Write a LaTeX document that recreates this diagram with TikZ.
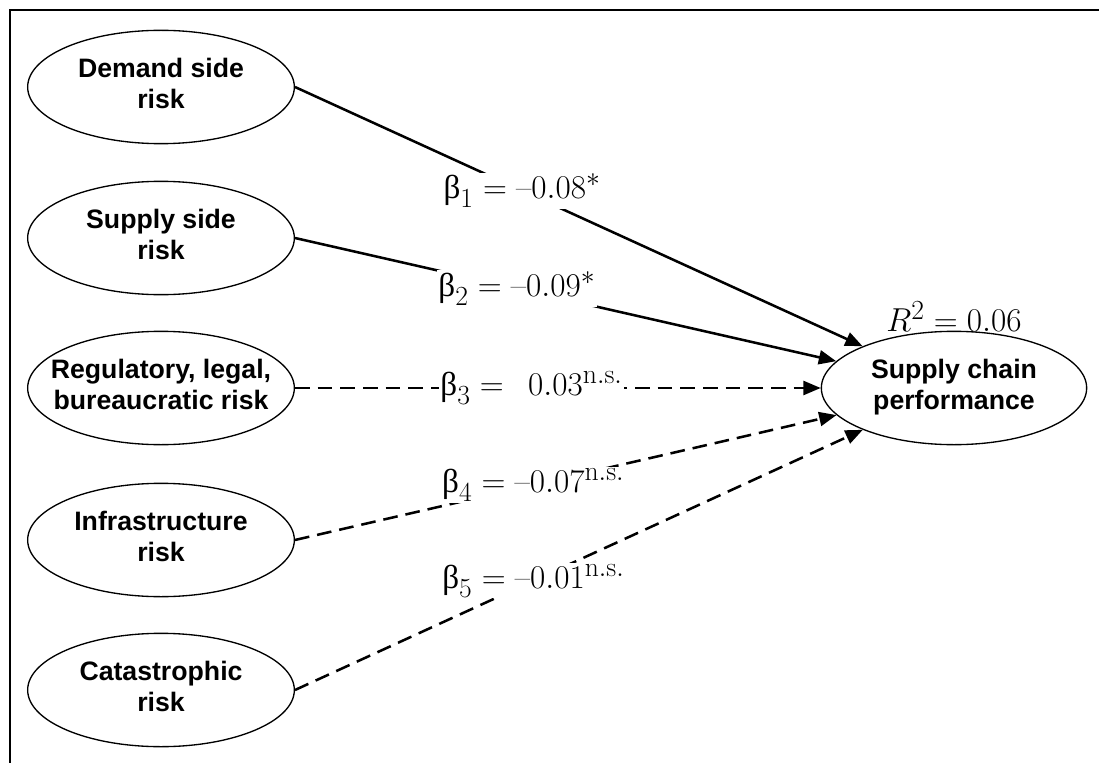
\documentclass[tikz,border=0pt]{standalone}
\usepackage{fontspec}
\usepackage{tikz}
\usetikzlibrary{shapes.geometric, arrows.meta, positioning}
\newfontfamily\sansfont{Liberation Sans}
\newfontfamily\greekfont{Liberation Serif}
\newcommand{\ubeta}{\mbox{\greekfont β}}
\newcommand{\twolines}[2]{\makebox[0pt]{\raisebox{-2.5pt}{\begin{tabular}{@{}c@{}}#1\\#2\end{tabular}}}}
\tikzset{
>={Triangle[length=13pt,width=10.5pt]},
  construct/.style={
    ellipse,
    draw=black, line width=1pt,
    minimum width=200pt,
    minimum height=85pt,
    inner sep=0pt,
    font=\sansfont\bfseries\fontsize{20}{23.5}\selectfont},
  effect/.style={->, line width=1.9pt},
  noeffect/.style={->, line width=1.9pt, dash pattern=on 11pt off 6pt},
  coef/.style={fill=white, inner sep=1pt, font=\Huge},
}
\begin{document}
\begin{tikzpicture}[x=0.75pt, y=-0.75pt]
\useasboundingbox (0,0) rectangle (1099,763);
\draw[line width=2.2pt] (10,763) -- (10,10) -- (1099,10);
% risk constructs on the left
\foreach \name/\y/\txtUp/\txtLow in {dem/87/Demand side/risk, sup/238/Supply side/risk,
    reg/388/{Regulatory, legal,}/bureaucratic risk, inf/540/Infrastructure/risk, cat/690/Catastrophic/risk}{
  \node[construct] (\name) at (161,\y) {\twolines{\txtUp}{\txtLow}};
  }
\node[construct, minimum width=199pt] (perf) at (954,388) {\twolines{Supply chain}{performance}};
\node[above=-1pt of perf, inner sep=0pt, font=\Huge] (rsq) {$R^2 = 0.06$};
% paths
\draw[effect] (dem.east) -- (perf) node[coef, pos=0.40] (b1) {$\ubeta_1 = \mbox{--}0.08^{*}$};
\draw[effect] (sup.east) -- (perf) node[coef, pos=0.41] (b2) {$\ubeta_2 = \mbox{--}0.09^{*}$};
\draw[noeffect] (reg.east) -- (perf) node[coef, pos=0.45] (b3) {$\ubeta_3 = \phantom{\mbox{--}}0.03^{\mathrm{n.s.}}$};
\draw[noeffect] (inf.east) -- (perf) node[coef, pos=0.44] (b4) {$\ubeta_4 = \mbox{--}0.07^{\mathrm{n.s.}}$};
\draw[noeffect] (cat.east) -- (perf) node[coef, pos=0.42] (b5) {$\ubeta_5 = \mbox{--}0.01^{\mathrm{n.s.}}$};
\end{tikzpicture}
\end{document}
